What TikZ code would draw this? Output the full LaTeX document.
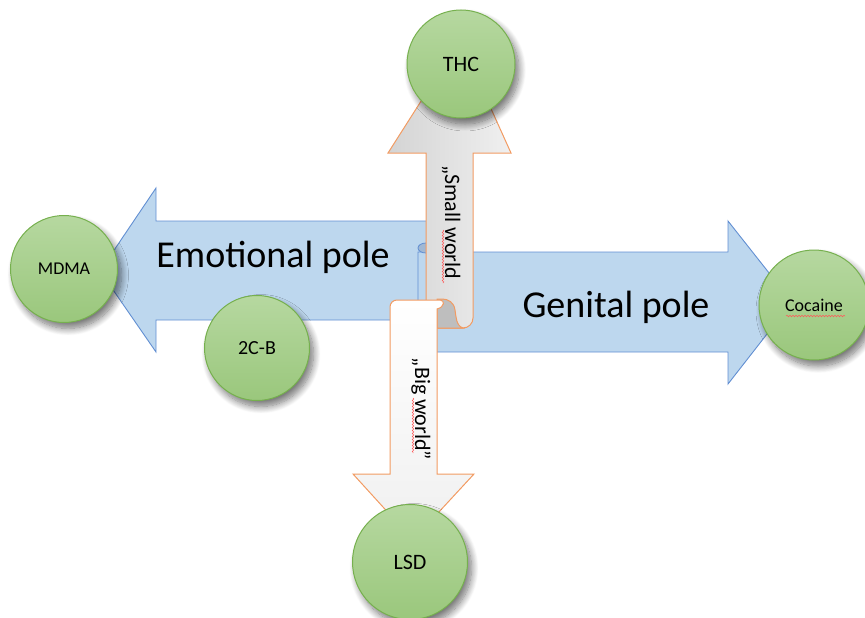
\documentclass[tikz,border=0pt]{standalone}
\usepackage{fontspec}
\setmainfont{Carlito}
\usetikzlibrary{shadows.blur,decorations.pathmorphing}
\definecolor{poleblue}{RGB}{189,215,238}
\definecolor{poleedge}{RGB}{98,143,210}
\definecolor{capblue}{RGB}{160,184,212}
\definecolor{drugtop}{RGB}{182,216,160}
\definecolor{drugbot}{RGB}{154,199,124}
\definecolor{drugedge}{RGB}{118,176,78}
\definecolor{worldedge}{RGB}{242,155,98}
\definecolor{curlgray}{RGB}{190,190,190}
\tikzset{
  polearrow/.style={fill=poleblue, draw=poleedge, line width=0.9pt, line join=miter},
  worldarrow/.style={draw=worldedge, line width=1pt, line join=miter},
  drug/.style={circle, minimum size=#1, inner sep=0pt, draw=drugedge, line width=1pt,
    top color=drugtop, bottom color=drugbot,
    blur shadow={shadow xshift=4pt, shadow yshift=-6pt, shadow blur radius=7pt,
      shadow blur steps=12, shadow opacity=55}},
  drug/.default=106pt,
  polelbl/.style={font=\fontsize{38}{44}\selectfont},
  worldlbl/.style={font=\fontsize{22}{26}\selectfont, rotate=-90},
  spellmark/.style={draw=red!65, line width=0.5pt, decorate,
    decoration={snake, amplitude=0.8pt, segment length=3pt}},
}

\begin{document}
\begin{tikzpicture}[x=1pt,y=-1pt]
  \useasboundingbox (0,0) rectangle (865,618);
  % the two poles
  \draw[polearrow] (100,271) -- (156,188) -- (156,221) -- (430,221) -- (430,320)
    -- (156,320) -- (156,352) -- cycle;
  \draw[polearrow] (418,252) -- (728,252) -- (728,221) -- (792,302) -- (728,384)
    -- (728,352) -- (418,352) -- cycle;
  \draw[poleedge, fill=capblue, line width=0.8pt] (426,248) ellipse (8 and 5);
  \node[polelbl] (emo) at (273,257) {Emotional pole};
  \node[polelbl] (gen) at (616,307) {Genital pole};
  % small world / big world scrolls
  \draw[worldarrow, left color=gray!34, right color=gray!12] (460,40) -- (511,153)
    -- (473,153) -- (473,318) arc[start angle=0, end angle=90, radius=10]
    -- (426,328) -- (426,153) -- (388,153) -- cycle;
  \draw[worldarrow, fill=curlgray] (437,328) -- (463,328)
    .. controls (456,326) and (456,316) .. (455,310)
    .. controls (454,302) and (448,299) .. (442,299) -- (437,299) -- cycle;
  \draw[worldarrow, top color=white, bottom color=gray!12] (390,474) -- (390,307)
    arc[start angle=180, end angle=270, radius=7] -- (440,300)
    .. controls (445,300) and (445,307) .. (437,309) -- (437,474) -- (474,474)
    -- (413,540) -- (353,474) -- cycle;
  \node[worldlbl] (small) at (451,222) {„Small world};
  \node[worldlbl] (big) at (421,409) {„Big world”};
  \draw[spellmark] (443,230) -- (443,283);
  \draw[spellmark] (413,398) -- (413,453);
  % substances
  \node[drug=108pt] (thc) at (461,64) {\fontsize{22}{26}\selectfont THC};
  \node[drug=107pt] (mdma) at (64,269) {\fontsize{18}{22}\selectfont MDMA};
  \node[drug=105pt] (cb) at (257,348) {\fontsize{20}{24}\selectfont 2C-B};
  \node[drug=110pt] (cocaine) at (814,305) {\fontsize{18}{22}\selectfont Cocaine};
  \node[drug=115pt] (lsd) at (410,562) {\fontsize{22}{26}\selectfont LSD};
  \draw[spellmark] (786,316) -- (845,316);
\end{tikzpicture}
\end{document}
